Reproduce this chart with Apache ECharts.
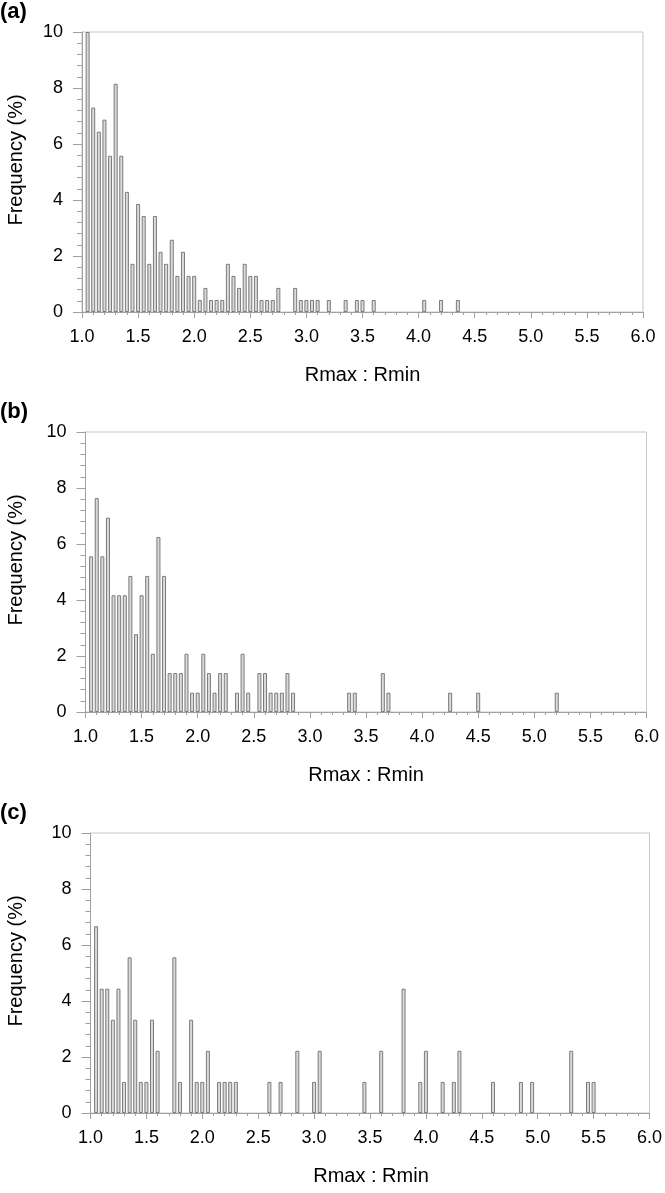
<!DOCTYPE html>
<html>
<head>
<meta charset="utf-8">
<script src="https://cdn.jsdelivr.net/npm/echarts@6/dist/echarts.min.js"></script>
<style>
html,body{margin:0;padding:0;background:#fff;}
#chart{width:665px;height:1193px;}
</style>
</head>
<body>
<div id="chart"></div>
<script>
// Bin positions (upper edge of each 0.05-wide Rmax:Rmin bin) and frequencies (%)
var aX = [1.05,1.10,1.15,1.20,1.25,1.30,1.35,1.40,1.45,1.50,1.55,1.60,1.65,1.70,1.75,1.80,1.85,1.90,1.95,2.00,2.05,2.10,2.15,2.20,2.25,2.30,2.35,2.40,2.45,2.50,2.55,2.60,2.65,2.70,2.75,2.90,2.95,3.00,3.05,3.10,3.20,3.35,3.45,3.50,3.60,4.05,4.20,4.35];
var aY = [10.0,7.30,6.44,6.87,5.58,8.15,5.58,4.29,1.72,3.86,3.43,1.72,3.43,2.15,1.72,2.58,1.29,2.15,1.29,1.29,0.43,0.86,0.43,0.43,0.43,1.72,1.29,0.86,1.72,1.29,1.29,0.43,0.43,0.43,0.86,0.86,0.43,0.43,0.43,0.43,0.43,0.43,0.43,0.43,0.43,0.43,0.43,0.43];

var bX = [1.05,1.10,1.15,1.20,1.25,1.30,1.35,1.40,1.45,1.50,1.55,1.60,1.65,1.70,1.75,1.80,1.85,1.90,1.95,2.00,2.05,2.10,2.15,2.20,2.25,2.35,2.40,2.45,2.55,2.60,2.65,2.70,2.75,2.80,2.85,3.35,3.40,3.65,3.70,4.25,4.50,5.20];
var bY = [5.56,7.64,5.56,6.94,4.17,4.17,4.17,4.86,2.78,4.17,4.86,2.08,6.25,4.86,1.39,1.39,1.39,2.08,0.69,0.69,2.08,1.39,0.69,1.39,1.39,0.69,2.08,0.69,1.39,1.39,0.69,0.69,0.69,1.39,0.69,0.69,0.69,1.39,0.69,0.69,0.69,0.69];

var cX = [1.05,1.10,1.15,1.20,1.25,1.30,1.35,1.40,1.45,1.50,1.55,1.60,1.75,1.80,1.90,1.95,2.00,2.05,2.15,2.20,2.25,2.30,2.60,2.70,2.85,3.00,3.05,3.45,3.60,3.80,3.95,4.00,4.15,4.25,4.30,4.60,4.85,4.95,5.30,5.45,5.50];
var cY = [6.67,4.44,4.44,3.33,4.44,1.11,5.56,3.33,1.11,1.11,3.33,2.22,5.56,1.11,3.33,1.11,1.11,2.22,1.11,1.11,1.11,1.11,1.11,1.11,2.22,1.11,2.22,1.11,2.22,4.44,1.11,2.22,1.11,1.11,2.22,1.11,1.11,1.11,2.22,1.11,1.11];

var panelLabels = ['(a)','(b)','(c)'];
var xName = 'Rmax : Rmin';
var yName = 'Frequency (%)';
var xRange = [1, 6];
var yRange = [0, 10];

var FONT = '"Liberation Sans", Arial, sans-serif';
var grids = [
  {left: 82, top: 32, width: 561, height: 280},
  {left: 85.5, top: 432, width: 561, height: 280},
  {left: 90.5, top: 833, width: 561, height: 280}
];
var panels = [[aX,aY],[bX,bY],[cX,cY]];

var option = {
  animation: false,
  backgroundColor: '#ffffff',
  grid: grids.map(function(g){
    return {left:g.left, top:g.top, width:g.width, height:g.height, show:true,
            borderColor:'#c6c6c6', borderWidth:1, backgroundColor:'transparent'};
  }),
  xAxis: grids.map(function(g,i){
    return {
      type:'value', gridIndex:i, min:xRange[0], max:xRange[1], interval:0.5,
      axisLine:{show:true, onZero:false, lineStyle:{color:'#a0a0a0', width:1}},
      axisTick:{show:true, length:6, lineStyle:{color:'#a0a0a0'}},
      minorTick:{show:true, splitNumber:5, length:3, lineStyle:{color:'#a0a0a0'}},
      splitLine:{show:false},
      axisLabel:{margin:16, color:'#000', fontSize:18, fontFamily:FONT,
                 formatter:function(v){return v.toFixed(1);}}
    };
  }),
  yAxis: grids.map(function(g,i){
    return {
      type:'value', gridIndex:i, min:yRange[0], max:yRange[1], interval:2,
      axisLine:{show:true, lineStyle:{color:'#a0a0a0', width:1}},
      axisTick:{show:true, length:9, lineStyle:{color:'#a0a0a0'}},
      minorTick:{show:true, splitNumber:5, length:5, lineStyle:{color:'#a0a0a0'}},
      splitLine:{show:false},
      axisLabel:{margin:19, color:'#000', fontSize:18, fontFamily:FONT}
    };
  }),
  series: panels.map(function(p,i){
    return {
      type:'bar', xAxisIndex:i, yAxisIndex:i, barWidth:4, clip:true,
      data: p[0].map(function(x,j){return [x, p[1][j]];}),
      itemStyle:{color:'#dadada', borderColor:'#7a7a7a', borderWidth:1}
    };
  }),
  graphic: []
};

grids.forEach(function(g,i){
  option.graphic.push({
    type:'text', left:0, top:g.top-31,
    style:{text:panelLabels[i], font:'bold 22px '+FONT, fill:'#000'}
  });
  option.graphic.push({
    type:'text', x:16, y:g.top + g.height/2 - 12, rotation:Math.PI/2,
    style:{text:yName, font:'20px '+FONT, fill:'#000', align:'center', verticalAlign:'middle'}
  });
  option.graphic.push({
    type:'text', x:g.left + g.width/2, y:g.top + g.height + 63,
    style:{text:xName, font:'20px '+FONT, fill:'#000', align:'center', verticalAlign:'middle'}
  });
});

var chart = echarts.init(document.getElementById('chart'), null, {renderer:'canvas'});
chart.setOption(option);
</script>
</body>
</html>
